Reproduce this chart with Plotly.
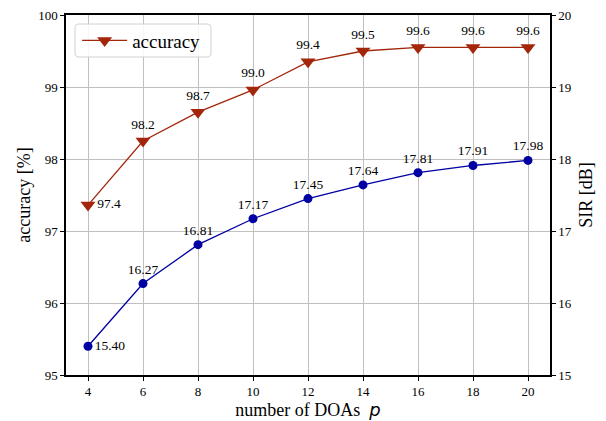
import plotly.graph_objects as go

doas = [4, 6, 8, 10, 12, 14, 16, 18, 20]
accuracy = [97.36, 98.25, 98.65, 98.96, 99.35, 99.50, 99.55, 99.55, 99.55]
accuracy_labels = ["97.4", "98.2", "98.7", "99.0", "99.4", "99.5", "99.6", "99.6", "99.6"]
sir = [15.40, 16.27, 16.81, 17.17, 17.45, 17.64, 17.81, 17.91, 17.98]
sir_labels = ["15.40", "16.27", "16.81", "17.17", "17.45", "17.64", "17.81", "17.91", "17.98"]

RED = "#a3260a"
BLUE = "#0000a3"
FONT = "Liberation Serif, Times New Roman, serif"

pos = ["middle right"] + ["top center"] * (len(doas) - 1)

fig = go.Figure()
fig.add_trace(go.Scatter(
    x=doas, y=accuracy, name="accuracy", mode="lines+markers+text",
    line=dict(color=RED, width=1.3),
    marker=dict(symbol="triangle-down", size=13, color=RED),
    text=accuracy_labels, textposition=pos,
    textfont=dict(family=FONT, size=13.5, color="black"),
    yaxis="y", cliponaxis=False,
))
fig.add_trace(go.Scatter(
    x=doas, y=sir, name="SIR", mode="lines+markers+text", showlegend=False,
    line=dict(color=BLUE, width=1.3),
    marker=dict(symbol="circle", size=9, color=BLUE),
    text=sir_labels, textposition=pos,
    textfont=dict(family=FONT, size=13.5, color="black"),
    yaxis="y2", cliponaxis=False,
))

axis_common = dict(
    showline=True, linecolor="black", linewidth=1.5,
    ticks="outside", ticklen=4, tickwidth=1, tickcolor="black",
    tickfont=dict(family=FONT, size=13, color="black"),
    zeroline=False, automargin=False, ticklabeloverflow="allow",
)

# rounded legend frame (paper coords)
x0, x1, y0, y1 = 0.0186, 0.2996, 0.8833, 0.975
rx, ry = 0.0083, 0.0111
frame = (f"M{x0+rx},{y1} L{x1-rx},{y1} Q{x1},{y1} {x1},{y1-ry} "
         f"L{x1},{y0+ry} Q{x1},{y0} {x1-rx},{y0} L{x0+rx},{y0} "
         f"Q{x0},{y0} {x0},{y0+ry} L{x0},{y1-ry} Q{x0},{y1} {x0+rx},{y1} Z")

fig.update_layout(
    width=598, height=413,
    margin=dict(l=58, r=56, t=7, b=46),
    plot_bgcolor="white", paper_bgcolor="white",
    font=dict(family=FONT, color="black"),
    xaxis=dict(
        range=[3.2, 20.8], tickvals=doas, mirror=True,
        showgrid=True, gridcolor="#c0c0c0", gridwidth=1,
        title=dict(text="number of DOAs  <span style='font-family:DejaVu Sans'><i>p</i></span>",
                   font=dict(family=FONT, size=18), standoff=4),
        **axis_common,
    ),
    yaxis=dict(
        range=[95, 100], dtick=1, showgrid=True, gridcolor="#c0c0c0", gridwidth=1,
        title=dict(text="accuracy [%]", font=dict(family=FONT, size=18), standoff=3),
        **axis_common,
    ),
    yaxis2=dict(
        range=[15, 20], dtick=1, overlaying="y", side="right", showgrid=False,
        title=dict(text="SIR [dB]", font=dict(family=FONT, size=18), standoff=9),
        **axis_common,
    ),
    shapes=[dict(type="path", xref="paper", yref="paper", path=frame,
                 fillcolor="rgba(255,255,255,0.85)", line=dict(color="#d0d0d0", width=1),
                 layer="above")],
    legend=dict(
        x=0.023, y=0.929, xanchor="left", yanchor="middle",
        bgcolor="rgba(0,0,0,0)", borderwidth=0, itemwidth=45,
        font=dict(family=FONT, size=19, color="black"),
    ),
    showlegend=True,
)

fig.write_html("out.html")
